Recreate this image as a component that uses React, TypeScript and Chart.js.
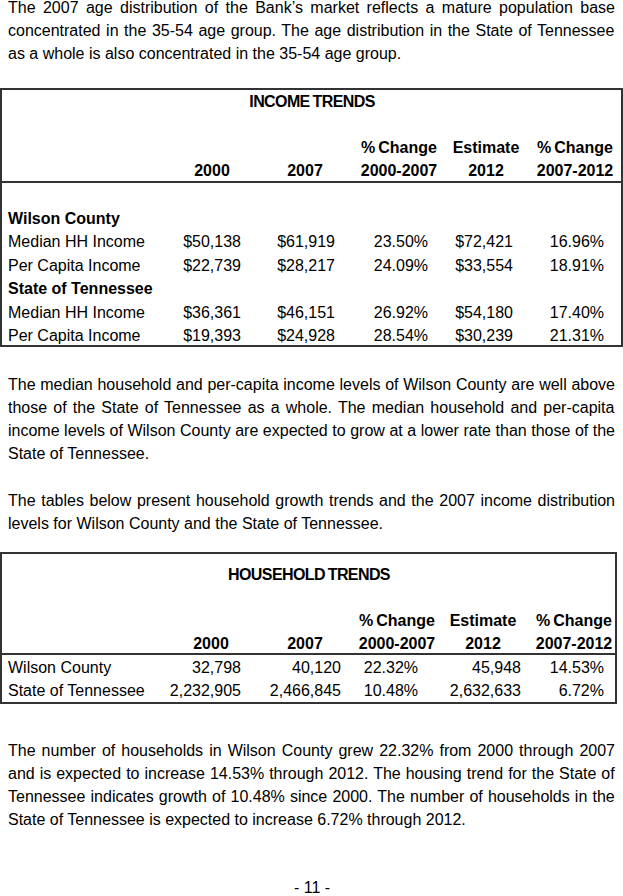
import React, { useEffect, useRef } from "react";
import { Chart, registerables } from "chart.js";

Chart.register(...registerables);

// ---------- text content ----------
const para1 = [
  "The 2007 age distribution of the Bank’s market reflects a mature population base",
  "concentrated in the 35-54 age group. The age distribution in the State of Tennessee",
  "as a whole is also concentrated in the 35-54 age group.",
];
const para2 = [
  "The median household and per-capita income levels of Wilson County are well above",
  "those of the State of Tennessee as a whole. The median household and per-capita",
  "income levels of Wilson County are expected to grow at a lower rate than those of the",
  "State of Tennessee.",
];
const para3 = [
  "The tables below present household growth trends and the 2007 income distribution",
  "levels for Wilson County and the State of Tennessee.",
];
const para4 = [
  "The number of households in Wilson County grew 22.32% from 2000 through 2007",
  "and is expected to increase 14.53% through 2012. The housing trend for the State of",
  "Tennessee indicates growth of 10.48% since 2000. The number of households in the",
  "State of Tennessee is expected to increase 6.72% through 2012.",
];
const pageNumber = "- 11 -";

// ---------- table data ----------
const incomeTitle = "INCOME TRENDS";
const householdTitle = "HOUSEHOLD TRENDS";
const headTop = ["", "", "% Change", "Estimate", "% Change"];
const headBottom = ["2000", "2007", "2000-2007", "2012", "2007-2012"];
const incomeGroups = ["Wilson County", "State of Tennessee"];
const incomeRowLabels = ["Median HH Income", "Per Capita Income"];
const wilsonMedianIncome = ["$50,138", "$61,919", "23.50%", "$72,421", "16.96%"];
const wilsonPerCapita = ["$22,739", "$28,217", "24.09%", "$33,554", "18.91%"];
const tennMedianIncome = ["$36,361", "$46,151", "26.92%", "$54,180", "17.40%"];
const tennPerCapita = ["$19,393", "$24,928", "28.54%", "$30,239", "21.31%"];
const householdLabels = ["Wilson County", "State of Tennessee"];
const wilsonHouseholds = ["32,798", "40,120", "22.32%", "45,948", "14.53%"];
const tennHouseholds = ["2,232,905", "2,466,845", "10.48%", "2,632,633", "6.72%"];

// ---------- layout ----------
const FONT_FAMILY = '"Liberation Sans", Arial, Helvetica, sans-serif';
const FS = 16;
const LEFT = 8;
const TEXT_W = 607;
const LH = 23;

const incomeHeadCenters = [212, 305, 399, 486, 575];
const incomeRight = [241, 335, 428, 513, 604];
const hhHeadCenters = [211, 305, 397, 483, 574];
const hhRight = [241, 341, 418, 521, 604];

let measureCtx: CanvasRenderingContext2D | null = null;
function measure(text: string, bold = false): number {
  if (!measureCtx) {
    const c = document.createElement("canvas");
    measureCtx = c.getContext("2d");
  }
  if (!measureCtx) return 0;
  measureCtx.font = `${bold ? "bold " : ""}${FS}px ${FONT_FAMILY}`;
  return measureCtx.measureText(text).width;
}

type LineProps = {
  text: string;
  cy: number;
  justify?: boolean;
  left?: number;
  right?: number;
  center?: number;
  bold?: boolean;
  style?: React.CSSProperties;
};

function Line({ text, cy, justify, left, right, center, bold, style }: LineProps) {
  const s: React.CSSProperties = {
    position: "absolute",
    top: cy - LH / 2,
    height: LH,
    lineHeight: `${LH}px`,
    whiteSpace: "pre",
    fontFamily: FONT_FAMILY,
    fontSize: FS,
    fontWeight: bold ? "bold" : "normal",
    color: "#000",
    ...style,
  };
  if (justify) {
    const spaces = (text.match(/ /g) || []).length;
    const w = measure(text, bold);
    const ws = spaces > 0 ? (TEXT_W - w) / spaces : 0;
    s.left = LEFT;
    s.width = TEXT_W;
    s.wordSpacing = `${ws}px`;
  } else if (right !== undefined) {
    s.left = right - 300;
    s.width = 300;
    s.textAlign = "right";
  } else if (center !== undefined) {
    s.left = center - 150;
    s.width = 300;
    s.textAlign = "center";
  } else {
    s.left = left ?? LEFT;
  }
  return <div style={s}>{text}</div>;
}

function Paragraph({ lines, y0 }: { lines: string[]; y0: number }) {
  return (
    <>
      {lines.map((t, i) => (
        <Line key={i} text={t} cy={y0 + i * LH} justify={i < lines.length - 1} />
      ))}
    </>
  );
}

const headStyle: React.CSSProperties = { wordSpacing: "-1.5px" };
const titleStyle: React.CSSProperties = { wordSpacing: "-1px", letterSpacing: "-0.6px" };

// frames of the two tables: [x0, y0, x1, y1, yRule]
const frameIncome = [1, 89, 622, 346, 182];
const frameHousehold = [1, 553, 616, 703, 654];

function FramesChart() {
  const ref = useRef<HTMLCanvasElement | null>(null);
  useEffect(() => {
    if (!ref.current) return;
    const framesPlugin = {
      id: "tableFrames",
      afterDraw(chart: any) {
        const { ctx, scales } = chart;
        const xs = scales.x;
        const ys = scales.y;
        ctx.save();
        ctx.strokeStyle = "#333";
        ctx.lineWidth = 2;
        for (const f of [frameIncome, frameHousehold]) {
          const x0 = xs.getPixelForValue(f[0]);
          const x1 = xs.getPixelForValue(f[2]);
          const y0 = ys.getPixelForValue(f[1]);
          const y1 = ys.getPixelForValue(f[3]);
          const yr = ys.getPixelForValue(f[4]);
          ctx.strokeRect(x0, y0, x1 - x0, y1 - y0);
          ctx.beginPath();
          ctx.moveTo(x0, yr);
          ctx.lineTo(x1, yr);
          ctx.stroke();
        }
        ctx.restore();
      },
    };
    const chart = new Chart(ref.current, {
      type: "scatter",
      data: { datasets: [{ data: [] }] },
      options: {
        animation: false,
        responsive: false,
        events: [],
        layout: { padding: 0 },
        plugins: { legend: { display: false }, tooltip: { enabled: false } },
        scales: {
          x: { type: "linear", min: 0, max: 623, display: false },
          y: { type: "linear", min: 0, max: 896, reverse: true, display: false },
        },
      },
      plugins: [framesPlugin],
    });
    return () => chart.destroy();
  }, []);
  return (
    <canvas
      ref={ref}
      width={623}
      height={896}
      style={{ position: "absolute", left: 0, top: 0, width: 623, height: 896, pointerEvents: "none" }}
    />
  );
}

export default function App() {
  const incomeRows: { label: string; vals?: string[]; bold?: boolean }[] = [
    { label: incomeGroups[0], bold: true },
    { label: incomeRowLabels[0], vals: wilsonMedianIncome },
    { label: incomeRowLabels[1], vals: wilsonPerCapita },
    { label: incomeGroups[1], bold: true },
    { label: incomeRowLabels[0], vals: tennMedianIncome },
    { label: incomeRowLabels[1], vals: tennPerCapita },
  ];
  const incomeRowY = [218, 241, 265, 288, 312, 335];
  const hhRows = [
    { label: householdLabels[0], vals: wilsonHouseholds },
    { label: householdLabels[1], vals: tennHouseholds },
  ];
  const hhRowY = [667, 690];

  return (
    <div
      style={{
        position: "absolute",
        left: 0,
        top: 0,
        width: 623,
        height: 896,
        background: "#fff",
        overflow: "hidden",
      }}
    >
      <Paragraph lines={para1} y0={7} />

      {/* Income table */}
      <Line text={incomeTitle} cy={101} center={312} bold style={titleStyle} />
      {headTop.map((t, i) =>
        t ? <Line key={"it" + i} text={t} cy={147} center={incomeHeadCenters[i]} bold style={headStyle} /> : null
      )}
      {headBottom.map((t, i) => (
        <Line key={"ib" + i} text={t} cy={170} center={incomeHeadCenters[i]} bold />
      ))}
      {incomeRows.map((r, ri) => (
        <React.Fragment key={"ir" + ri}>
          <Line text={r.label} cy={incomeRowY[ri]} left={LEFT} bold={r.bold} />
          {r.vals?.map((v, ci) => (
            <Line key={ci} text={v} cy={incomeRowY[ri]} right={incomeRight[ci]} />
          ))}
        </React.Fragment>
      ))}

      <Paragraph lines={para2} y0={384} />
      <Paragraph lines={para3} y0={500} />

      {/* Household table */}
      <Line text={householdTitle} cy={574} center={309} bold style={titleStyle} />
      {headTop.map((t, i) =>
        t ? <Line key={"ht" + i} text={t} cy={620} center={hhHeadCenters[i]} bold style={headStyle} /> : null
      )}
      {headBottom.map((t, i) => (
        <Line key={"hb" + i} text={t} cy={643} center={hhHeadCenters[i]} bold />
      ))}
      {hhRows.map((r, ri) => (
        <React.Fragment key={"hr" + ri}>
          <Line text={r.label} cy={hhRowY[ri]} left={LEFT} />
          {r.vals.map((v, ci) => (
            <Line key={ci} text={v} cy={hhRowY[ri]} right={hhRight[ci]} />
          ))}
        </React.Fragment>
      ))}

      <Paragraph lines={para4} y0={750} />
      <Line text={pageNumber} cy={887} center={312} />

      <FramesChart />
    </div>
  );
}
